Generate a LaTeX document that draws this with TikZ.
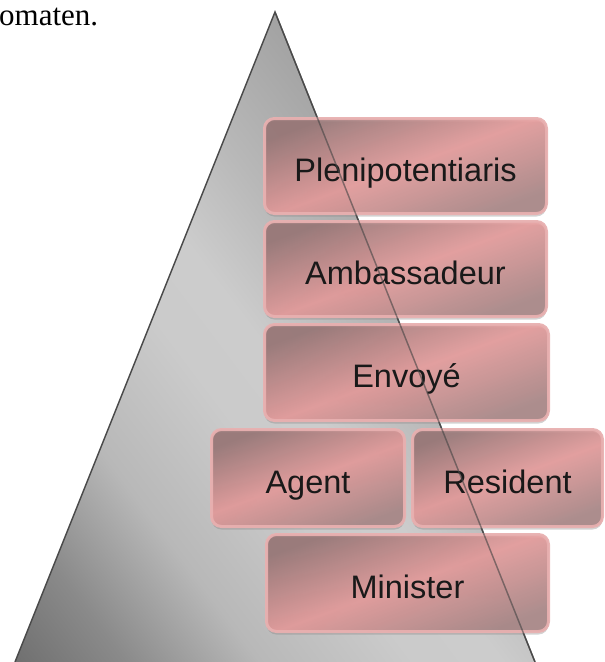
\documentclass[tikz,border=0pt]{standalone}
\usepackage{fontspec}
\setmainfont{Liberation Serif}
\newfontfamily\boxfont{Liberation Sans}
\usetikzlibrary{shadows}
\definecolor{t0}{HTML}{6C6C6C}
\definecolor{t1}{HTML}{8A8A8A}
\definecolor{t2}{HTML}{B8B8B8}
\definecolor{t3}{HTML}{CBCBCB}
\definecolor{t4}{HTML}{CCCCCC}
\definecolor{t5}{HTML}{B8B8B8}
\definecolor{t6}{HTML}{A0A0A0}
\definecolor{triline}{HTML}{4A4A4A}
\definecolor{boxdark}{HTML}{987676}
\definecolor{boxpink}{HTML}{E49A9A}
\definecolor{boxmauve}{HTML}{A88686}
\definecolor{rimpink}{HTML}{E8B0B0}
\definecolor{innerline}{HTML}{8E6E6E}
\pgfdeclarehorizontalshading{trih}{1200bp}{color(0bp)=(t0); color(100bp)=(t1); color(207bp)=(t2); color(330bp)=(t3); color(400bp)=(t4); color(491bp)=(t5); color(620bp)=(t6)}
\tikzset{
  pbox/.style={rounded corners=10pt, draw=rimpink, line width=3pt,
    shading=axis, top color=boxdark, bottom color=boxmauve, middle color=boxpink,
    shading angle=20, fill opacity=0.9, draw opacity=0.95, text opacity=1,
    font=\boxfont\fontsize{32.5}{36}\selectfont, text=black!90,
    text height=30pt, text depth=0pt,
    drop shadow={shadow xshift=0pt, shadow yshift=-3pt, opacity=0.35}},
  triedge/.style={draw=triline, line width=1.4pt}
}
\begin{document}
\begin{tikzpicture}[x=1pt,y=-1pt]
\useasboundingbox (0,0) rectangle (605,662);
\coordinate (apex) at (275,12);
\coordinate (bl) at (15,662);
\coordinate (br) at (535,662);
\coordinate (origin) at (0,662);
\begin{scope}
\clip (apex) -- (br) -- (bl) -- cycle;
\node[inner sep=0pt, outer sep=0pt, anchor=west, rotate=37, transform shape] (grad) at (origin) {\pgfuseshading{trih}};
\end{scope}
\draw[triedge] (bl) -- (apex) -- (br);
\node[anchor=base west, font=\fontsize{31}{34}\selectfont, inner sep=0pt] (caption) at (-1,25) {omaten.};
\node[pbox, minimum width=282pt, minimum height=95pt] (pleni) at (405.5,166) {Plenipotentiaris};
\node[pbox, minimum width=282pt, minimum height=95pt] (amb) at (405.5,269) {Ambassadeur};
\node[pbox, minimum width=284pt, minimum height=96pt] (env) at (406.5,372.5) {Envoyé};
\node[pbox, minimum width=193pt, minimum height=97pt] (agent) at (308,478) {Agent};
\node[pbox, minimum width=190pt, minimum height=97pt] (res) at (507.5,478) {Resident};
\node[pbox, minimum width=282pt, minimum height=97pt] (mini) at (407.5,583) {Minister};
\draw[triedge, opacity=0.6] (apex) -- (br);
\end{tikzpicture}
\end{document}
